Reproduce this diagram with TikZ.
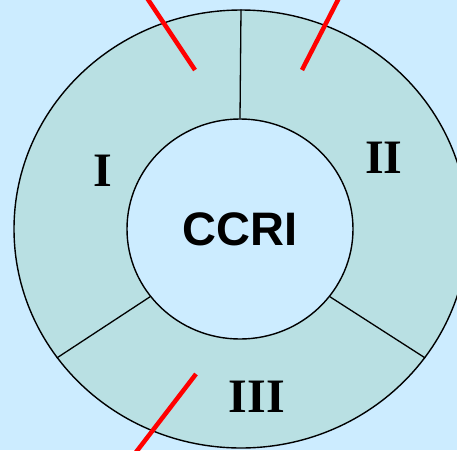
\documentclass[tikz,border=0pt]{standalone}
\usepackage{fontspec}
\usetikzlibrary{shapes.geometric}
\newfontfamily\ccrifont{Liberation Sans}
\newfontfamily\numfont{Liberation Serif}
\definecolor{bgblue}{RGB}{204,236,255}
\definecolor{ringteal}{RGB}{185,224,227}
\begin{document}
\begin{tikzpicture}[x=1pt, y=-1pt,
  ring/.style={ellipse, draw, line width=1.4pt, fill=ringteal, inner sep=0pt},
  core/.style={ellipse, draw, line width=1.4pt, fill=bgblue, inner sep=0pt,
    font=\ccrifont\bfseries\fontsize{47}{50}\selectfont},
  sector/.style={font=\numfont\bfseries\fontsize{48}{50}\selectfont},
  divider/.style={line width=1.3pt},
  cut/.style={line width=4.5pt, red}]
  \fill[bgblue] (0,0) rectangle (457,450);
  \useasboundingbox (0,0) rectangle (457,450);
  \clip (0,0) rectangle (457,450);
  \node[ring, minimum width=454pt, minimum height=438pt] (outer) at (241,229) {};
  \node[core, minimum width=226pt, minimum height=220pt] (ccri) at (240,229) {CCRI};
  \draw[divider] (outer.90) -- (ccri.90);
  \draw[divider] (outer.215) -- (ccri.217);
  \draw[divider] (outer.325) -- (ccri.323);
  \node[sector] (s1) at (103,171) {I};
  \node[sector] (s2) at (384,158) {II};
  \node[sector] (s3) at (257,397) {III};
  % red cut lines
  \coordinate (c1a) at (143,-8);
  \coordinate (c1b) at (195,70);
  \coordinate (c2a) at (342,-8);
  \coordinate (c2b) at (302,70);
  \coordinate (c3a) at (196,374);
  \coordinate (c3b) at (130,460);
  \draw[cut] (c1a) -- (c1b);
  \draw[cut] (c2a) -- (c2b);
  \draw[cut] (c3a) -- (c3b);
\end{tikzpicture}
\end{document}
